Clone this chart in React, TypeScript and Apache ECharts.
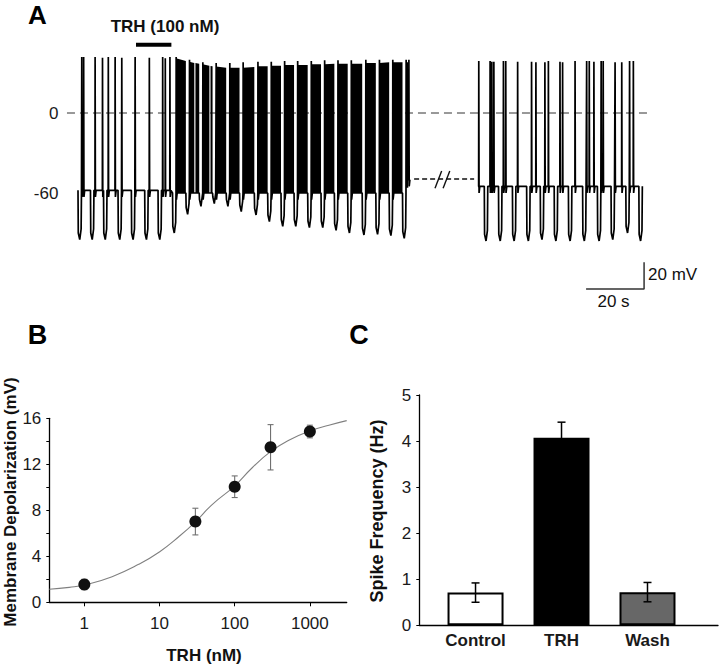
import React, { useEffect, useRef } from 'react';
import * as echarts from 'echarts';

const FONT = '"Liberation Sans", Arial, Helvetica, sans-serif';

// ---------- Panel A: membrane potential trace (time in s, voltage in mV) ----------
const seg1Start = 0;
const seg1End = 114.5;
const seg1BaseT = [0, 32.0, 112.9];
const seg1BaseV = [-58, -60, -50];
const seg1PulseT = [0, 4.3, 8.8, 13.8, 18.4, 23.0, 27.6, 32.6, 37.2, 41.8, 46.4, 51.1, 55.7, 60.8, 65.4, 70.0, 74.5, 79.2, 83.8, 88.4, 93.0, 98.0, 102.7, 107.3, 111.9];
const seg1PulseV = [-95, -95, -95, -95, -95, -95, -95, -90, -76, -70, -68, -70, -74, -76.5, -81.5, -85, -85, -86, -86, -88, -90, -91.5, -91, -92, -94];
const seg1SpikeT = [1.3, 1.95, 5.9, 8.45, 10.45, 12.8, 15.1, 19.7, 24.6, 29.2, 30.1, 31.7,
  33.85, 38.45, 43.05, 47.65, 52.35, 56.95, 62.05, 66.65, 71.25, 75.75, 80.45, 85.05, 89.65, 94.25, 99.25, 103.95, 108.55, 113.15, 114.1];
const seg1SpikeV = [42, 42, 42, 41.5, 42, 42, 41.5, 42, 41.5, 42, 41, 42,
  42, 40, 38, 37.5, 37.5, 38, 38.5, 38.5, 39, 39, 39, 39.5, 39.5, 39.5, 40, 40, 40, 40, 40];

// dense spiking during TRH (solid black blocks between current pulses)
const denseStart = [33.8, 38.4, 40.5, 43.0, 45.7, 47.6, 52.3, 56.9, 62.0, 66.6, 71.2, 75.7, 80.4, 85.0, 89.6, 94.2, 99.2, 103.9, 108.5, 113.1];
const denseEnd = [37.2, 40.1, 41.8, 45.3, 46.4, 51.1, 55.7, 60.8, 65.4, 70.0, 74.5, 79.2, 83.8, 88.4, 93.0, 98.0, 102.7, 107.3, 111.9, 113.9];
const denseTopStart = [41, 38.5, 37.5, 36.5, 35.2, 34.8, 34, 34, 35, 35.5, 36, 36, 36.5, 36.5, 37, 37, 37.5, 37.5, 38, 38];
const denseTopEnd = [39, 37.5, 37, 35.5, 35, 34, 34, 34.5, 35, 35.5, 36, 36, 36.5, 37, 37, 37, 37.5, 38, 38, 38];
const denseFloor = [-60, -60, -60, -60, -60, -60, -60, -60, -60, -60, -60, -60, -60, -60, -60, -60, -60, -60, -60, -56];

const seg2Start = 137.9;
const seg2End = 194.6;
const seg2BaseT = [137.9];
const seg2BaseV = [-55];
const seg2PulseT = [140.1, 145.0, 149.8, 154.7, 159.4, 164.2, 169.1, 174.0, 179.1, 183.8, 188.9, 193.4];
const seg2PulseV = [-96, -96, -96, -96, -95, -96, -96, -96, -96, -95, -90, -96];
const seg2SpikeT = [138.2, 142.1, 142.7, 143.4, 146.7, 147.5, 151.6, 156.4, 157.9, 161.0, 162.2, 166.2, 167.1, 171.4, 175.4, 176.3, 177.9, 180.4, 181.1, 185.2, 187.5, 190.2, 191.5];
const seg2SpikeV = [39, 39, 38.5, 38.5, 39, 39, 38.5, 38.5, 38, 38, 39, 38.5, 38, 39, 39, 39, 38.5, 39, 39, 38, 38, 39, 39];

const aTickValues = [0, -60];
const trhBar = [[20, 51.2], [32.2, 51.2]];
const zeroLine = [[-3.8, 0], [196.6, 0]];
const breakLineA = [[115.9, -49.5], [136.6, -49.5]];
const breakSlash1 = [[123.1, -56.5], [125.4, -43.5]];
const breakSlash2 = [[125.9, -56.5], [128.2, -43.5]];
const scaleBar = [[175.2, -132], [195.2, -132], [195.2, -112]];

// ---------- Panel B: dose response ----------
const bConc = [1, 30, 100, 300, 1000];
const bMean = [1.55, 7.02, 10.05, 13.48, 14.85];
const bSem = [0.45, 1.16, 0.94, 1.97, 0.55];
const bFitLogX = [-0.466, -0.2, 0, 0.369, 0.723, 1.003, 1.256, 1.478, 1.7, 1.997, 2.233, 2.477, 2.72, 3.0, 3.253, 3.49];
const bFitY = [1.13, 1.3, 1.5, 2.23, 3.3, 4.4, 5.7, 7.0, 8.5, 10.1, 11.7, 13.1, 14.1, 14.9, 15.4, 15.8];
const bXTicks = [0, 1, 2, 3];

// ---------- Panel C: spike frequency ----------
const cCategories = ['Control', 'TRH', 'Wash'];
const cMean = [0.71, 4.07, 0.72];
const cSem = [0.21, 0.34, 0.21];
const cColors = ['#ffffff', '#000000', '#676767'];

const PULSE_DUR = 1.2;

function stepAt(ts: number[], vs: number[], t: number) {
  let v = vs[0];
  for (let i = 0; i < ts.length; i++) if (ts[i] <= t) v = vs[i];
  return v;
}

function buildTrace(t0: number, t1: number, bT: number[], bV: number[], pT: number[], pV: number[], sT: number[], sV: number[]) {
  const ev: { t: number; k: string; v: number }[] = [];
  pT.forEach((t, i) => ev.push({ t, k: 'p', v: pV[i] }));
  sT.forEach((t, i) => ev.push({ t, k: 's', v: sV[i] }));
  ev.sort((a, b) => a.t - b.t);
  const pts: number[][] = [[t0, stepAt(bT, bV, t0)]];
  for (const e of ev) {
    const b = stepAt(bT, bV, e.t);
    if (e.k === 'p') {
      pts.push(
        [e.t, b], [e.t + 0.1, e.v + 5], [e.t + 0.6, e.v],
        [Math.min(e.t + PULSE_DUR - 0.12, t1), e.v + 8], [Math.min(e.t + PULSE_DUR, t1), b],
      );
    } else {
      pts.push([e.t - 0.05, b], [e.t, e.v], [e.t + 0.1, b - 5], [e.t + 0.35, b]);
    }
  }
  pts.push([t1, stepAt(bT, bV, t1)]);
  return pts;
}

export default function App() {
  const ref = useRef<HTMLDivElement>(null);
  useEffect(() => {
    if (!ref.current) return;
    const chart = echarts.init(ref.current, undefined, { renderer: 'svg' });

    const trace1 = buildTrace(seg1Start, seg1End, seg1BaseT, seg1BaseV, seg1PulseT, seg1PulseV, seg1SpikeT, seg1SpikeV);
    const trace2 = buildTrace(seg2Start, seg2End, seg2BaseT, seg2BaseV, seg2PulseT, seg2PulseV, seg2SpikeT, seg2SpikeV);
    const dense = denseStart.map((s, i) => [s, denseEnd[i], denseTopStart[i], denseTopEnd[i], denseFloor[i]]);

    const pxPerS = 2.9;
    const pxPerMV = 4 / 3;
    const aXMin = -4, aXMax = 197, aYMin = -135, aYMax = 55;
    const zeroY = 113;

    const lineSeries = (data: number[][], color: string, width: number, type: any, z: number, xi: number, yi: number, smooth = false) => ({
      type: 'line', data, xAxisIndex: xi, yAxisIndex: yi, symbol: 'none', showSymbol: false, smooth,
      lineStyle: { color, width, type }, z, silent: true, clip: true,
    });

    const errBarB = bConc.map((c, i) => [Math.log10(c), bMean[i], bSem[i]]);
    const errBarC = cMean.map((m, i) => [i, m, cSem[i]]);

    const errRender = (color: string, width: number, cap: number) => (params: any, api: any) => {
      const x = api.value(0), m = api.value(1), s = api.value(2);
      const top = api.coord([x, m + s]);
      const bot = api.coord([x, m - s]);
      const st = { stroke: color, lineWidth: width };
      return {
        type: 'group',
        children: [
          { type: 'line', shape: { x1: top[0], y1: top[1], x2: bot[0], y2: bot[1] }, style: st },
          { type: 'line', shape: { x1: top[0] - cap, y1: top[1], x2: top[0] + cap, y2: top[1] }, style: st },
          { type: 'line', shape: { x1: bot[0] - cap, y1: bot[1], x2: bot[0] + cap, y2: bot[1] }, style: st },
        ],
      };
    };

    const axisText = { color: '#1a1a1a', fontFamily: FONT };
    const axLine = { show: true, onZero: false, lineStyle: { color: '#000', width: 1.3 } };

    const option: any = {
      animation: false,
      backgroundColor: '#ffffff',
      textStyle: { fontFamily: FONT },
      grid: [
        { left: 78 + aXMin * pxPerS, top: zeroY - aYMax * pxPerMV, width: (aXMax - aXMin) * pxPerS, height: (aYMax - aYMin) * pxPerMV },
        { left: 49.3, top: 418.3, width: 297.4, height: 184 },
        { left: 419.3, top: 395, width: 298.7, height: 230.3 },
      ],
      xAxis: [
        { gridIndex: 0, type: 'value', min: aXMin, max: aXMax, show: false },
        {
          gridIndex: 1, type: 'value', min: -0.466, max: 3.49,
          axisLine: axLine,
          axisTick: { show: true, customValues: bXTicks, length: 4, lineStyle: { color: '#000' } },
          axisLabel: { customValues: bXTicks, formatter: (v: number) => String(Math.round(Math.pow(10, v))), fontSize: 17, margin: 13, ...axisText },
          splitLine: { show: false },
        },
        {
          gridIndex: 2, type: 'value', min: -0.654, max: 2.82,
          axisLine: axLine,
          axisTick: { show: false },
          axisLabel: { customValues: [0, 1, 2], formatter: (v: number) => cCategories[Math.round(v)], fontSize: 17, fontWeight: 'bold', margin: 7, ...axisText },
          splitLine: { show: false },
        },
      ],
      yAxis: [
        {
          gridIndex: 0, type: 'value', min: aYMin, max: aYMax,
          axisLine: { show: false }, axisTick: { show: false }, splitLine: { show: false },
          axisLabel: { customValues: aTickValues, fontSize: 17, margin: 8, ...axisText },
        },
        {
          gridIndex: 1, type: 'value', min: 0, max: 16, interval: 2,
          axisLine: axLine,
          axisTick: { show: true, length: 3, lineStyle: { color: '#000' } },
          axisLabel: { formatter: (v: number) => (v % 4 === 0 ? String(v) : ''), fontSize: 17, margin: 8, ...axisText },
          splitLine: { show: false },
        },
        {
          gridIndex: 2, type: 'value', min: 0, max: 5, interval: 1,
          axisLine: axLine,
          axisTick: { show: true, length: 3, lineStyle: { color: '#000' } },
          axisLabel: { fontSize: 17, margin: 8, ...axisText },
          splitLine: { show: false },
        },
      ],
      series: [
        // Panel A
        lineSeries(zeroLine, '#333', 1, [8, 5], 1, 0, 0),
        {
          type: 'custom', xAxisIndex: 0, yAxisIndex: 0, data: dense, z: 2, silent: true, clip: true,
          encode: { x: [0, 1], y: [2, 3, 4] },
          renderItem: (params: any, api: any) => {
            const s = api.value(0), e = api.value(1), ta = api.value(2), tb = api.value(3), f = api.value(4);
            const pts = [api.coord([s, f]), api.coord([s, ta]), api.coord([e, tb]), api.coord([e, f])];
            return { type: 'polygon', shape: { points: pts }, style: { fill: '#000' } };
          },
        },
        lineSeries(trace1, '#000', 1.7, 'solid', 3, 0, 0),
        lineSeries(trace2, '#000', 1.7, 'solid', 3, 0, 0),
        lineSeries(breakLineA, '#111', 1.4, [5, 3], 3, 0, 0),
        lineSeries(breakSlash1, '#111', 1.4, 'solid', 3, 0, 0),
        lineSeries(breakSlash2, '#111', 1.4, 'solid', 3, 0, 0),
        lineSeries(trhBar, '#000', 4, 'solid', 3, 0, 0),
        lineSeries(scaleBar, '#333', 1.5, 'solid', 3, 0, 0),
        // Panel B
        lineSeries(bFitLogX.map((x, i) => [x, bFitY[i]]), '#808080', 1.1, 'solid', 3, 1, 1, true),
        {
          type: 'custom', xAxisIndex: 1, yAxisIndex: 1, data: errBarB, z: 4, silent: true,
          encode: { x: 0, y: 1 },
          renderItem: errRender('#707070', 1.1, 3),
        },
        {
          type: 'scatter', xAxisIndex: 1, yAxisIndex: 1, z: 5, silent: true,
          data: bConc.map((c, i) => [Math.log10(c), bMean[i]]),
          symbol: 'circle', symbolSize: 12, itemStyle: { color: '#111', opacity: 1 },
        },
        // Panel C
        {
          type: 'bar', xAxisIndex: 2, yAxisIndex: 2, barWidth: 56, z: 3, silent: true,
          data: cMean.map((m, i) => ({ value: [i, m], itemStyle: { color: cColors[i], borderColor: '#000', borderWidth: 2 } })),
        },
        {
          type: 'custom', xAxisIndex: 2, yAxisIndex: 2, data: errBarC, z: 4, silent: true,
          encode: { x: 0, y: 1 },
          renderItem: errRender('#000', 1.5, 4),
        },
      ],
      graphic: [
        { type: 'text', x: 37.5, y: 14.5, style: { text: 'A', fontSize: 26, fontWeight: 'bold', fontFamily: FONT, fill: '#000', textAlign: 'center', textVerticalAlign: 'middle' } },
        { type: 'text', x: 37.5, y: 335, style: { text: 'B', fontSize: 27, fontWeight: 'bold', fontFamily: FONT, fill: '#000', textAlign: 'center', textVerticalAlign: 'middle' } },
        { type: 'text', x: 359, y: 335, style: { text: 'C', fontSize: 27, fontWeight: 'bold', fontFamily: FONT, fill: '#000', textAlign: 'center', textVerticalAlign: 'middle' } },
        { type: 'text', x: 165, y: 26, style: { text: 'TRH (100 nM)', fontSize: 17, fontWeight: 'bold', fontFamily: FONT, fill: '#111', textAlign: 'center', textVerticalAlign: 'middle' } },
        { type: 'text', x: 648, y: 274, style: { text: '20 mV', fontSize: 17, fontFamily: FONT, fill: '#111', textAlign: 'left', textVerticalAlign: 'middle' } },
        { type: 'text', x: 613.5, y: 301, style: { text: '20 s', fontSize: 17, fontFamily: FONT, fill: '#111', textAlign: 'center', textVerticalAlign: 'middle' } },
        { type: 'text', x: 10, y: 502, rotation: Math.PI / 2, style: { text: 'Membrane Depolarization (mV)', fontSize: 17, fontWeight: 'bold', fontFamily: FONT, fill: '#111', textAlign: 'center', textVerticalAlign: 'middle' } },
        { type: 'text', x: 204, y: 655, style: { text: 'TRH (nM)', fontSize: 17, fontWeight: 'bold', fontFamily: FONT, fill: '#111', textAlign: 'center', textVerticalAlign: 'middle' } },
        { type: 'text', x: 376.5, y: 511, rotation: Math.PI / 2, style: { text: 'Spike Frequency (Hz)', fontSize: 18, fontWeight: 'bold', fontFamily: FONT, fill: '#111', textAlign: 'center', textVerticalAlign: 'middle' } },
      ],
    };

    chart.setOption(option);
    return () => chart.dispose();
  }, []);

  return <div ref={ref} style={{ position: 'absolute', left: 0, top: 0, width: 720, height: 664, background: '#fff' }} />;
}
